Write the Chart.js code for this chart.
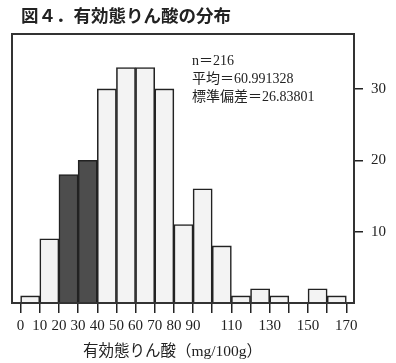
<!DOCTYPE html>
<html><head><meta charset="utf-8">
<script src="https://cdn.jsdelivr.net/npm/chart.js@4"></script>
<style>html,body{margin:0;padding:0;background:#fff}#wrap{position:relative;width:396px;height:363px}</style>
</head><body><div id="wrap"><canvas id="c" width="396" height="363"></canvas></div>
<script>
// ---- data ----
const binStarts = [0,10,20,30,40,50,60,70,80,90,100,110,120,130,140,150,160];
const counts    = [1,9,18,20,30,33,33,30,11,16,8,1,2,1,0,2,1];
const binWidth = 10;
const highlightedBins = [20,30];
const xTickValues = [0,10,20,30,40,50,60,70,80,90,100,110,120,130,140,150,160,170];
const xTickLabels = ['0','10','20','30','40','50','60','70','80','90','','110','','130','','150','','170'];
const yTickValues = [10,20,30];
const titleText = '図４．有効態りん酸の分布';
const xAxisTitle = '有効態りん酸（mg/100g）';
const statsLines = ['n＝216','平均＝60.991328','標準偏差＝26.83801'];

const SERIF = '"Liberation Serif","Noto Sans CJK JP",serif';
const INK = '#222';

const boxAndText = {
  id: 'boxAndText',
  afterDatasetsDraw(chart) {
    const {ctx, chartArea: a} = chart;
    ctx.save();
    ctx.strokeStyle = '#333';
    ctx.lineWidth = 2;
    ctx.strokeRect(a.left, a.top, a.right - a.left, a.bottom - a.top);
    ctx.restore();
  },
  afterDraw(chart) {
    const {ctx} = chart;
    ctx.save();
    ctx.fillStyle = INK;
    ctx.textBaseline = 'middle';
    ctx.textAlign = 'left';
    ctx.font = 'bold 17.5px "Noto Sans CJK JP", sans-serif';
    ctx.fillText(titleText, 21, 15);
    ctx.font = '14px ' + SERIF;
    ctx.textBaseline = 'alphabetic';
    const ys = [65, 83, 101];
    statsLines.forEach((t, i) => ctx.fillText(t, 192, ys[i]));
    ctx.font = '15.5px ' + SERIF;
    ctx.textBaseline = 'middle';
    ctx.fillText(xAxisTitle, 83, 352);
    ctx.restore();
  }
};

new Chart(document.getElementById('c'), {
  type: 'bar',
  data: {
    datasets: [{
      data: binStarts.map((s, i) => ({x: s + binWidth / 2, y: counts[i]})),
      backgroundColor: binStarts.map(s => highlightedBins.includes(s) ? '#4d4d4d' : '#f3f3f3'),
      borderColor: INK,
      borderWidth: 1.6,
      barPercentage: 1,
      categoryPercentage: 1
    }]
  },
  plugins: [boxAndText],
  options: {
    responsive: false,
    animation: false,
    events: [],
    layout: {padding: {top: 34, left: 12, right: 0, bottom: 0}},
    plugins: {legend: {display: false}, tooltip: {enabled: false}, title: {display: false}},
    scales: {
      x: {
        type: 'linear', min: -4.5, max: 174, offset: false,
        afterBuildTicks: s => { s.ticks = xTickValues.map(v => ({value: v})); },
        afterFit: s => { s.height = 60; },
        ticks: {
          autoSkip: false, maxRotation: 0, padding: 4, color: INK,
          font: {family: SERIF, size: 15},
          callback: (v) => { const i = xTickValues.indexOf(v); return i >= 0 ? xTickLabels[i] : ''; }
        },
        grid: {display: true, drawOnChartArea: false, drawTicks: true, tickLength: 10, color: INK, lineWidth: 1.5, offset: false},
        border: {display: false}
      },
      y: {
        position: 'right', min: 0, max: 37.7,
        afterBuildTicks: s => { s.ticks = yTickValues.map(v => ({value: v})); },
        afterFit: s => { s.width = 42; },
        ticks: {padding: 8, color: INK, font: {family: SERIF, size: 15}},
        grid: {display: true, drawOnChartArea: false, drawTicks: true, tickLength: 9, color: INK, lineWidth: 1.5},
        border: {display: false}
      }
    }
  }
});
</script>
</body></html>
